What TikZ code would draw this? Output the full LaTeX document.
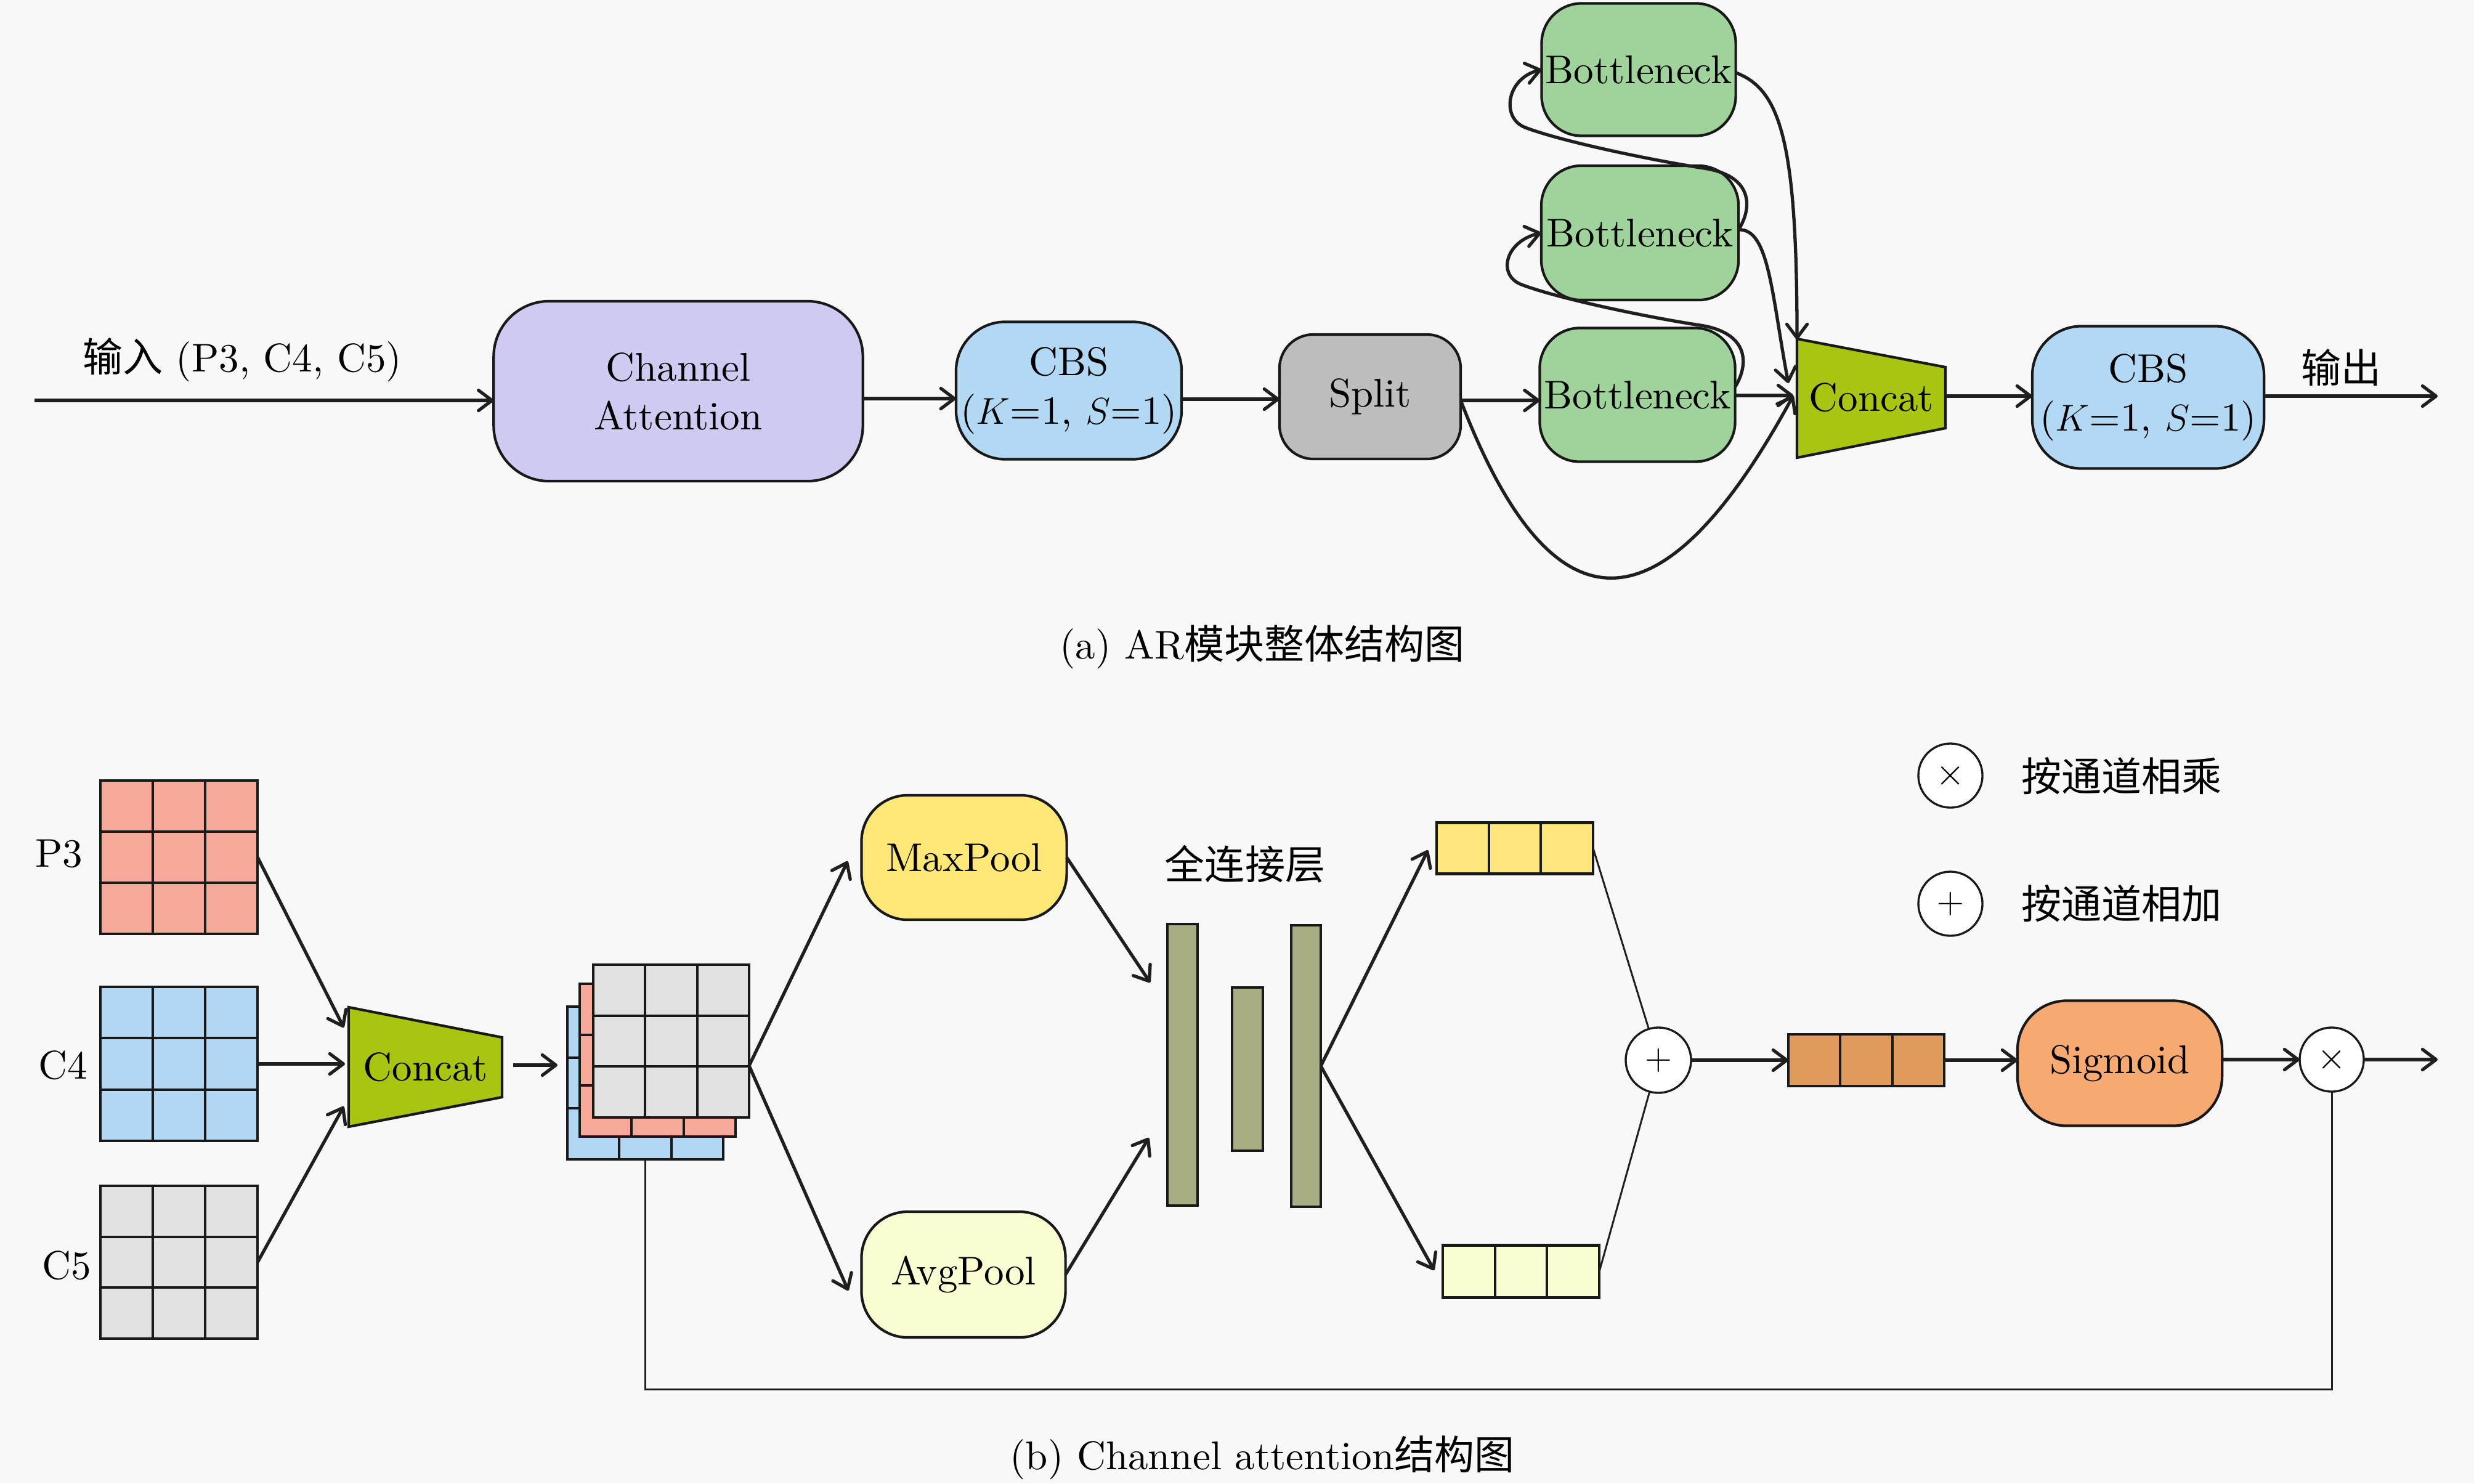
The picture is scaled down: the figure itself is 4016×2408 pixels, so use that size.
\documentclass[tikz,border=0pt]{standalone}
\usepackage{fontspec}
\setmainfont{lmroman10}[Extension=.otf, UprightFont=*-regular, ItalicFont=*-italic, BoldFont=*-bold]
\newfontfamily\cjk{Noto Sans CJK SC}
\usetikzlibrary{arrows.meta,calc}
\definecolor{bgc}{HTML}{F8F8F8}
\definecolor{cac}{HTML}{CFCAF2}
\definecolor{cbsc}{HTML}{B3D8F3}
\definecolor{splitc}{HTML}{BDBDBD}
\definecolor{bnc}{HTML}{A0D39B}
\definecolor{concc}{HTML}{A9C511}
\definecolor{p3c}{HTML}{F6A89B}
\definecolor{c4c}{HTML}{B3D7F2}
\definecolor{c5c}{HTML}{E1E1E1}
\definecolor{maxc}{HTML}{FFE878}
\definecolor{avgc}{HTML}{FAFCD1}
\definecolor{fcc}{HTML}{A9AD84}
\definecolor{uvc}{HTML}{FFE57B}
\definecolor{lvc}{HTML}{FAFDD2}
\definecolor{ovc}{HTML}{E09A5E}
\definecolor{sigc}{HTML}{F6AA72}
\tikzset{
  rbox/.style={draw=black!90, line width=1.2pt, align=center, inner sep=0pt, outer sep=0pt},
  gbox/.style={draw=black!90, line width=1.2pt, inner sep=0pt, outer sep=0pt},
  cellline/.style={draw=black!90, line width=1.15pt},
  arr/.style={draw=black!88, line width=1.5pt, -{Straight Barb[length=0.22cm,width=0.33cm,round]}},
  thinline/.style={draw=black!88, line width=0.85pt},
  opcircle/.style={draw=black!90, line width=0.95pt, circle, inner sep=0pt, outer sep=0pt, fill=white},
  plain/.style={inner sep=0pt, outer sep=0pt},
}
\newcommand{\gridlinesthree}[1]{%
  \foreach \f in {0.3333,0.6667}{%
    \draw[cellline] ($(#1.north west)!\f!(#1.north east)$) -- ($(#1.south west)!\f!(#1.south east)$);
    \draw[cellline] ($(#1.north west)!\f!(#1.south west)$) -- ($(#1.north east)!\f!(#1.south east)$);
  }}
\newcommand{\vecdiv}[1]{%
  \foreach \f in {0.3333,0.6667}{%
    \draw[cellline] ($(#1.north west)!\f!(#1.north east)$) -- ($(#1.south west)!\f!(#1.south east)$);
  }}
\begin{document}
\begin{tikzpicture}[x=0.01cm,y=-0.01cm,font=\fontsize{18.5}{22.5}\selectfont]
\useasboundingbox (0,0) rectangle (4016,2408);
\fill[bgc] (0,0) rectangle (4016,2408);

% ================= (a) =================
\node[rbox, fill=cac, rounded corners=0.9cm, minimum width=5.99cm, minimum height=2.92cm] (ca) at (1101,635) {Channel\\Attention};
\node[rbox, fill=cbsc, rounded corners=0.8cm, minimum width=3.66cm, minimum height=2.23cm] (cbs1) at (1735,634) {CBS\\($K$=1, $S$=1)};
\node[rbox, fill=splitc, rounded corners=0.55cm, minimum width=2.94cm, minimum height=2.02cm] (split) at (2224,644) {Split};
\node[rbox, fill=bnc, rounded corners=0.65cm, minimum width=3.15cm, minimum height=2.15cm] (b1) at (2660,113) {Bottleneck};
\node[rbox, fill=bnc, rounded corners=0.65cm, minimum width=3.2cm, minimum height=2.18cm] (b2) at (2662,378) {Bottleneck};
\node[rbox, fill=bnc, rounded corners=0.65cm, minimum width=3.17cm, minimum height=2.17cm] (b3) at (2658,641) {Bottleneck};
\draw[draw=black!90, line width=1.2pt, fill=concc] (2917,550) -- (3158,596) -- (3158,695) -- (2917,743) -- cycle;
\node[plain] (concA) at (3038,645) {Concat};
\node[rbox, fill=cbsc, rounded corners=0.8cm, minimum width=3.76cm, minimum height=2.31cm] (cbs2) at (3487,645) {CBS\\($K$=1, $S$=1)};

\node[plain] (inlab) at (393,584) {{\cjk 输入} (P3, C4, C5)};
\node[plain] (outlab) at (3800,597) {\cjk 输出};
\node[plain] (capa) at (2049,1050) {(a) AR{\cjk 模块整体结构图}};

\coordinate (inS) at (56,650);
\coordinate (y647) at (0,647);
\coordinate (y648) at (0,648);
\coordinate (y650) at (0,650);
\coordinate (cAtl) at (2917,551);
\coordinate (cAb2) at (2903,622);
\coordinate (cAin) at (2911,642);
\coordinate (cAo) at (3158,643);
\coordinate (outE) at (3957,643);

\draw[arr] (inS) -- (inS -| ca.west);
\draw[arr] (ca.east |- y647) -- (cbs1.west |- y647);
\draw[arr] (cbs1.east |- y648) -- (split.west |- y648);
\draw[arr] (split.east |- y650) -- (b3.west |- y650);
\draw[arr] (b3.east |- cAin) -- (cAin);
\draw[arr] (split.east |- y650) .. controls (2519,1035) and (2697,1035) .. (cAin);
% loops
\draw[arr] ($(b3.east)+(0,-13)$) .. controls (2840,590) and (2838,540) .. (2760,528)
   .. controls (2680,516) and (2530,485) .. (2470,462)
   .. controls (2430,447) and (2443,392) .. (b2.west);
\draw[arr] ($(b2.east)+(0,-5)$) .. controls (2846,335) and (2844,285) .. (2766,273)
   .. controls (2686,261) and (2536,230) .. (2476,207)
   .. controls (2436,192) and (2445,127) .. (b1.west);
\draw[arr] ($(b2.east)+(0,-5)$) .. controls (2872,370) and (2876,480) .. (cAb2);
\draw[arr] ($(b1.east)+(0,5)$) .. controls (2890,145) and (2917,230) .. (cAtl);
\draw[arr] (cAo) -- (cAo -| cbs2.west);
\draw[arr] (cbs2.east |- cAo) -- (outE);

% ================= (b) =================
\node[gbox, fill=p3c, minimum width=2.55cm, minimum height=2.49cm] (p3) at (290.5,1391.5) {};
\gridlinesthree{p3}
\node[gbox, fill=c4c, minimum width=2.55cm, minimum height=2.5cm] (c4) at (290.5,1727) {};
\gridlinesthree{c4}
\node[gbox, fill=c5c, minimum width=2.55cm, minimum height=2.48cm] (c5) at (290.5,2049) {};
\gridlinesthree{c5}
\node[plain] (lp3) at (96,1386) {P3};
\node[plain] (lc4) at (102,1729) {C4};
\node[plain] (lc5) at (108,2054) {C5};

\draw[draw=black!90, line width=1.2pt, fill=concc] (566,1635) -- (815,1684) -- (815,1781) -- (566,1829) -- cycle;
\node[plain] (concB) at (691,1732) {Concat};

\node[gbox, fill=c4c, minimum width=2.53cm, minimum height=2.48cm] (stb) at (1047.5,1758) {};
\gridlinesthree{stb}
\node[gbox, fill=p3c, minimum width=2.53cm, minimum height=2.48cm] (sts) at (1067.5,1721) {};
\gridlinesthree{sts}
\node[gbox, fill=c5c, minimum width=2.53cm, minimum height=2.48cm] (stg) at (1089.5,1690) {};
\gridlinesthree{stg}

\node[rbox, fill=maxc, rounded corners=0.75cm, minimum width=3.33cm, minimum height=2.02cm] (maxp) at (1565,1392) {MaxPool};
\node[rbox, fill=avgc, rounded corners=0.75cm, minimum width=3.31cm, minimum height=2.04cm] (avgp) at (1564,2069) {AvgPool};

\node[gbox, fill=fcc, minimum width=0.49cm, minimum height=4.57cm] (fc1) at (1919.5,1728.5) {};
\node[gbox, fill=fcc, minimum width=0.5cm, minimum height=2.65cm] (fc2) at (2025,1735.5) {};
\node[gbox, fill=fcc, minimum width=0.48cm, minimum height=4.57cm] (fc3) at (2120,1730.5) {};
\node[plain] (fclab) at (2021,1403) {\cjk 全连接层};

\node[gbox, fill=uvc, minimum width=2.54cm, minimum height=0.83cm] (uv) at (2459,1377) {};
\vecdiv{uv}
\node[gbox, fill=lvc, minimum width=2.54cm, minimum height=0.85cm] (lv) at (2469,2064) {};
\vecdiv{lv}
\node[opcircle, minimum size=1.06cm] (plus) at (2692,1721) {$+$};
\node[gbox, fill=ovc, minimum width=2.53cm, minimum height=0.84cm] (ov) at (3029.5,1721) {};
\vecdiv{ov}
\node[rbox, fill=sigc, rounded corners=0.8cm, minimum width=3.32cm, minimum height=2.03cm] (sig) at (3441,1726) {Sigmoid};
\node[opcircle, minimum size=1.04cm] (times) at (3785,1720) {$\times$};

% legend
\node[opcircle, minimum size=1.04cm] (legx) at (3166,1259) {$\times$};
\node[opcircle, minimum size=1.04cm] (legp) at (3166,1467) {$+$};
\node[plain] (legxt) at (3444,1260) {\cjk 按通道相乘};
\node[plain] (legpt) at (3444,1467) {\cjk 按通道相加};

\node[plain] (capb) at (2049,2366) {(b) Channel attention{\cjk 结构图}};

% connectors (b)
\coordinate (cBi1) at (558,1668);
\coordinate (cBi2) at (560,1727);
\coordinate (cBi3) at (558,1796);
\coordinate (cBo) at (833,1729);
\coordinate (stIn) at (905,1729);
\coordinate (stOut) at (1216,1730);
\coordinate (mpIn) at (1376,1398);
\coordinate (apIn) at (1377,2095);
\coordinate (fcIn1) at (1867,1595);
\coordinate (fcIn2) at (1865,1847);
\coordinate (uvIn) at (2318,1380);
\coordinate (lvIn) at (2328,2062);
\coordinate (bOut) at (3957,1720);
\coordinate (byp) at (0,2255);

\draw[arr] (p3.east) -- (cBi1);
\draw[arr] (c4.east) -- (cBi2);
\draw[arr] (c5.east) -- (cBi3);
\draw[arr] (cBo) -- (stIn);
\draw[arr] (stOut) -- (mpIn);
\draw[arr] (stOut) -- (apIn);
\draw[arr] (maxp.east) -- (fcIn1);
\draw[arr] (avgp.east) -- (fcIn2);
\draw[arr] (fc3.east) -- (uvIn);
\draw[arr] (fc3.east) -- (lvIn);
\draw[thinline] (uv.east) -- (plus);
\draw[thinline] (lv.east) -- (plus);
\draw[arr] (plus) -- (ov);
\draw[arr] (ov.east) -- (ov.east -| sig.west);
\draw[arr] (sig.east |- times) -- (times);
\draw[arr] (times) -- (bOut);
\draw[thinline] (stb.south) -- (stb.south |- byp) -- (times.south |- byp) -- (times.south);
\end{tikzpicture}
\end{document}
